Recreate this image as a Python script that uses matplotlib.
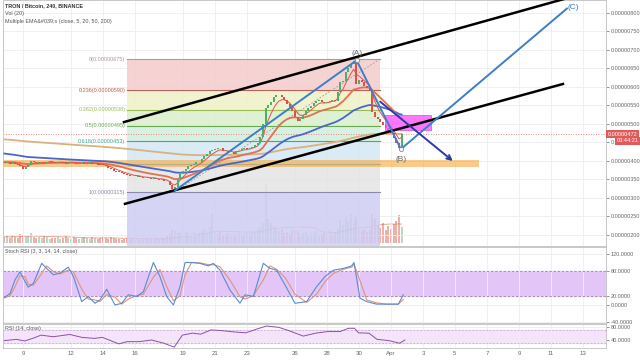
import numpy as np
import pandas as pd
import matplotlib
matplotlib.use('Agg')
import matplotlib.pyplot as plt
from matplotlib.patches import Rectangle
from matplotlib.ticker import FuncFormatter

plt.rcParams['font.family'] = ['Liberation Sans', 'DejaVu Sans']

# 4h closes in satoshi (1e-8 BTC), first candle Mar 7 20:00
closes = [395,
    397, 393, 396, 392, 388, 385,   # Mar 8
    379, 383, 390, 399, 397, 394,   # Mar 9
    396, 398, 395, 397, 399, 396,   # Mar 10
    394, 396, 398, 395, 393, 396,   # Mar 11
    397, 395, 392, 394, 396, 393,   # Mar 12
    393, 396, 392, 394, 390, 389,   # Mar 13
    388, 386, 382, 378, 374, 371,   # Mar 14
    370, 366, 364, 362, 360, 358,   # Mar 15
    357, 360, 356, 353, 355, 354,   # Mar 16
    352, 355, 350, 348, 352, 347,   # Mar 17
    345, 336, 324, 330, 352, 364,   # Mar 18
    372, 378, 385, 389, 392, 396,   # Mar 19
    398, 405, 412, 418, 426, 430,   # Mar 20
    432, 436, 434, 428, 426, 424,   # Mar 21
    424, 420, 426, 428, 432, 434,   # Mar 22
    432, 436, 438, 442, 448, 465,   # Mar 23
    500, 543, 550, 560, 572, 577,   # Mar 24
    578, 572, 566, 555, 545, 534,   # Mar 25
    520, 508, 512, 524, 535, 542,   # Mar 26
    548, 556, 562, 566, 560, 556,   # Mar 27
    558, 562, 566, 562, 585, 612,   # Mar 28
    615, 640, 652, 663, 670, 607,   # Mar 29
    620, 612, 603, 598, 590, 533,   # Mar 30
    520, 512, 505, 498, 490, 484,   # Mar 31
    476, 462, 448, 436, 472]        # Apr 1

volumes = [6,
    7, 5, 8, 6, 5, 9,
    8, 6, 7, 10, 6, 5,
    6, 5, 7, 6, 4, 5,
    5, 6, 4, 5, 7, 5,
    4, 6, 5, 4, 5, 6,
    5, 4, 6, 5, 4, 5,
    6, 5, 4, 6, 5, 4,
    4, 3, 4, 5, 3, 4,
    3, 4, 3, 4, 5, 3,
    4, 3, 5, 4, 6, 5,
    7, 9, 13, 12, 10, 11,
    9, 12, 10, 8, 11, 9,
    10, 12, 14, 10, 16, 29,
    11, 9, 12, 8, 9, 10,
    8, 7, 9, 10, 8, 9,
    10, 9, 12, 11, 13, 16,
    20, 59, 24, 20, 17, 15,
    12, 14, 10, 11, 9, 13,
    14, 12, 9, 10, 11, 8,
    10, 9, 12, 8, 9, 11,
    10, 12, 9, 11, 14, 23,
    18, 26, 22, 29, 20, 27,
    16, 12, 14, 11, 13, 29,
    24, 18, 15, 20, 13, 17,
    14, 19, 22, 28, 16]

# EMA values at the left edge of the chart
ema_seeds = {5: 395, 20: 397, 50: 421, 200: 459}

fib_high, fib_low = 675.4, 315.4
fib_levels = [0, 0.236, 0.382, 0.5, 0.618, 0.786, 1, 1.618]

# day of month (March; Apr 1 = 32)
stoch_days = [7.77, 8.19, 8.50, 8.81, 9.13, 9.33, 9.65, 10.17, 10.48, 10.9,
              11.31, 11.83, 12.15, 12.67, 13.08, 13.5, 13.81, 14.23, 14.75, 15.17,
              15.58, 16.1, 16.52, 17.15, 17.56, 17.98, 18.4, 18.81, 19.13, 19.54,
              20.06, 20.58, 20.9, 21.31, 21.94, 22.56, 22.88, 23.4, 24.02, 24.44,
              24.85, 25.38, 26.0, 26.73, 27.35, 27.88, 28.4, 29.02, 29.54, 29.69,
              30.06, 30.48, 31.1, 31.73, 32.46, 32.77]
stoch_k = [16, 27, 59, 78, 55, 42, 51, 98, 86, 71,
           75, 89, 67, 8, 20, 4, 12, 37, 0, 4,
           24, 20, 31, 100, 67, 20, 0, 43, 100, 100,
           98, 92, 98, 82, 35, 4, 24, 20, 98, 86,
           82, 47, 4, 8, 43, 67, 82, 86, 92, 100,
           16, 8, 2, 2, 2, 24]

rsi_days = [7.82, 8.59, 9.1, 9.61, 10.13, 10.89, 11.92, 12.69, 13.46, 13.97,
            14.99, 15.5, 16.27, 17.04, 17.81, 18.45, 18.96, 19.6, 20.11, 20.75,
            21.39, 22.16, 22.93, 23.57, 24.21, 24.98, 25.49, 26.52, 27.29, 28.05,
            28.82, 29.34, 29.72, 29.97, 30.62, 31.13, 31.89, 32.54, 32.87]
rsi_vals = [38, 42, 37, 45, 55, 50, 57, 48, 45, 48,
            28, 35, 35, 40, 30, 18, 55, 61, 58, 71,
            69, 65, 62, 73, 83, 79, 71, 52, 61, 66,
            66, 76, 76, 62, 61, 42, 38, 30, 40]

date_ticks = [9, 12, 14, 16, 19, 21, 23, 26, 28, 30, 32, 34, 36, 38, 40, 42, 44]
date_labels = ['9', '12', '14', '16', '19', '21', '23', '26', '28', '30', 'Apr',
               '3', '5', '7', '9', '11', '13']

# ---------------------------------------------------------------
n = len(closes)
t = 7 + 20 / 24 + np.arange(n) / 6
c = np.array(closes, dtype=float)
o = np.concatenate([[396], c[:-1]])
up = c >= o


def ema(vals, span, seed):
    a = 2 / (span + 1)
    out, e = [], seed
    for v in vals:
        e = e + a * (v - e)
        out.append(e)
    return np.array(out)


FS = 4.0
XMIN, XMAX = 7.75, 45.44
fig = plt.figure(figsize=(6.4, 3.6), dpi=100)
fig.patch.set_facecolor('white')
L, W = 3 / 640, 603 / 640
ax = fig.add_axes([L, 1 - 246 / 360, W, 246 / 360])
ax_st = fig.add_axes([L, 1 - 323 / 360, W, 76 / 360])
ax_r = fig.add_axes([L, 1 - 348 / 360, W, 24 / 360])

# volume, behind the price pane
axv = ax.twinx()
axv.set_zorder(ax.get_zorder() - 1)
ax.patch.set_visible(False)
axv.set_ylim(-3, 243)
axv.set_yticks([])
axv.bar(t, volumes, width=0.11, color=np.where(up, '#6ba583', '#d75442'), alpha=0.45)
axv.plot(t, pd.Series(volumes).rolling(20, min_periods=1).mean(), color='#e07050', lw=0.6, alpha=0.7)
for s in axv.spines.values():
    s.set_visible(False)

grid_c = '#eeeeee'
for a in (ax, ax_st, ax_r):
    a.set_xlim(XMIN, XMAX)
    a.set_xticks(date_ticks)
    a.grid(True, color=grid_c, lw=0.6)
    a.set_axisbelow(True)
    a.yaxis.tick_right()
    a.yaxis.set_label_position('right')
    a.tick_params(axis='y', labelsize=FS, colors='#666', length=2, pad=1.5, width=0.5,
                  left=False, labelleft=False, right=True, labelright=True)
    a.tick_params(axis='x', length=0, labelbottom=False)
    for s in a.spines.values():
        s.set_color('#c8c8c8')
        s.set_linewidth(0.7)

ax.set_ylim(170, 835)
ax.set_yticks(np.arange(200, 801, 50))
ax.yaxis.set_major_formatter(FuncFormatter(lambda v, _: f"{v * 1e-8:.8f}"))

# fibonacci retracement
zone_cols = ['#f4cccc', '#eef2c6', '#d9efcb', '#d2eedc', '#d5e8f4', '#e4e4e4', '#cfcdf3']
line_cols = ['#b09a9a', '#c0605a', '#9bbb59', '#6aa84f', '#45a68e', '#6fa8dc', '#8a8aa8', '#8a8aa8']
fx0, fx1 = 15.5, 31.31
fib_p = [fib_high - lv * (fib_high - fib_low) for lv in fib_levels]
for i in range(len(fib_levels) - 1):
    ax.add_patch(Rectangle((fx0, fib_p[i + 1]), fx1 - fx0, fib_p[i] - fib_p[i + 1],
                           facecolor=zone_cols[i], alpha=0.85, lw=0, zorder=1))
for i, (lv, p) in enumerate(zip(fib_levels, fib_p)):
    ax.plot([fx0, fx1], [p, p], color=line_cols[i], lw=0.8, zorder=1.2)
    if lv in (0.786, 1.618):
        continue
    lab = f"{lv:g}({p * 1e-8:.8f})"
    ax.text(fx0 - 0.1, p, lab, ha='right', va='center', fontsize=FS, color=line_cols[i], zorder=5)
ax.plot([18.45, fx1], [fib_low, fib_high], color='#999', lw=0.6, ls=(0, (2, 2)), zorder=3)

# support band and target box
ax.add_patch(Rectangle((XMIN, 384), 37.5 - XMIN, 19, facecolor='#f5a83a', alpha=0.6, lw=0, zorder=2))
ax.add_patch(Rectangle((31.62, 484), 2.88, 40, facecolor='#ff55ff', alpha=0.8,
                       edgecolor='#e040e0', lw=0.6, zorder=6))

# current price line
ax.axhline(closes[-1], color='#e06666', lw=0.6, ls=(0, (1, 2)), zorder=2)

# EMAs
ema_cols = {5: '#e8524a', 20: '#e2714f', 50: '#4867cc', 200: '#d9b27c'}
ema_lw = {5: 0.7, 20: 1.3, 50: 1.3, 200: 1.3}
for span in (200, 50, 20, 5):
    ax.plot(t, ema(c, span, ema_seeds[span]), color=ema_cols[span], lw=ema_lw[span], zorder=4)

# candles
body = np.where(np.abs(c - o) < 1.5, 1.5, c - o)
ax.bar(t, body, bottom=o, width=0.11, color=np.where(up, '#4caf6a', '#e0504a'), lw=0, zorder=5)

# channel
ax.plot([15.31, 43.5], [505, 846], color='black', lw=1.8, zorder=7)
ax.plot([15.375, 42.75], [284, 608], color='black', lw=1.8, zorder=7)

# wave count
wave_x = [18.5, 29.85, 32.62, 43.0]
wave_y = [320, 672, 432, 812]
ax.plot(wave_x, wave_y, color='#3d7fc7', lw=1.4, zorder=8)
ax.plot(wave_x[1:3], wave_y[1:3], 'o', ms=3, mfc='white', mec='#888', mew=0.6, zorder=9)
ax.text(29.9, 690, '(A)', ha='center', va='center', fontsize=6, color='#666', zorder=9)
ax.text(32.62, 405, '(B)', ha='center', va='center', fontsize=6, color='#666', zorder=9)
ax.text(43.4, 815, '(C)', ha='center', va='center', fontsize=6, color='#3d7fc7', zorder=9)
ax.annotate('', xy=(36.0, 395), xytext=(31.19, 565),
            arrowprops=dict(arrowstyle='->', color='#2b3aa8', lw=1.4, mutation_scale=8), zorder=9)

# price tags
ax.text(1.003, closes[-1], f"{closes[-1] * 1e-8:.8f}", transform=ax.get_yaxis_transform(),
        fontsize=FS, color='white', va='center', ha='left',
        bbox=dict(boxstyle='square,pad=0.25', fc='#e05a5a', ec='none'))
ax.text(1.018, 454, '03:44:21', transform=ax.get_yaxis_transform(),
        fontsize=FS, color='white', va='center', ha='left',
        bbox=dict(boxstyle='square,pad=0.25', fc='#e05a5a', ec='none'))

# header
fig.text(5 / 640, 1 - 6 / 360, 'TRON / Bitcoin, 240, BINANCE', fontsize=3.9, color='#333',
         va='center', fontweight='bold')
fig.text(5 / 640, 1 - 14 / 360, 'Vol (20)', fontsize=3.9, color='#555', va='center')
fig.text(5 / 640, 1 - 22 / 360, 'Multiple EMA&#039;s (close, 5, 20, 50, 200)', fontsize=3.9,
         color='#555', va='center')

# stoch RSI
ax_st.set_ylim(-42.4, 136.5)
ax_st.axhspan(20, 80, color='#e3c6f7', zorder=0.5)
for lv in (80, 20):
    ax_st.axhline(lv, color='#9a80b0', lw=0.6, ls=(0, (3, 2)))
k = pd.Series(stoch_k, dtype=float)
d = k.rolling(2, min_periods=1).mean()
ax_st.plot(stoch_days, d, color='#d9967a', lw=0.8)
ax_st.plot(stoch_days, k, color='#5b8bd0', lw=0.8)
ax_st.set_yticks([120, 80, 20, 0, -40])
ax_st.yaxis.set_major_formatter(FuncFormatter(lambda v, _: f"{v:.4f}"))
ax_st.text(0.004, 0.97, 'Stoch RSI (3, 3, 14, 14, close)', transform=ax_st.transAxes,
           fontsize=3.9, color='#555', va='top')

# RSI
ax_r.set_ylim(15.4, 89.2)
ax_r.axhspan(30, 70, color='#f4e3fb', zorder=0.5)
for lv in (70, 30):
    ax_r.axhline(lv, color='#c0a8d0', lw=0.5, ls=(0, (3, 2)))
ax_r.plot(rsi_days, rsi_vals, color='#8e4fa8', lw=0.7)
ax_r.set_yticks([80, 40])
ax_r.yaxis.set_major_formatter(FuncFormatter(lambda v, _: f"{v:.4f}"))
ax_r.text(0.004, 0.92, 'RSI (14, close)', transform=ax_r.transAxes,
          fontsize=3.9, color='#555', va='top')
ax_r.tick_params(axis='x', labelbottom=True, labelsize=4.4, colors='#666', pad=2)
ax_r.set_xticklabels(date_labels)

fig.savefig('out.png', dpi=100, facecolor='white')
